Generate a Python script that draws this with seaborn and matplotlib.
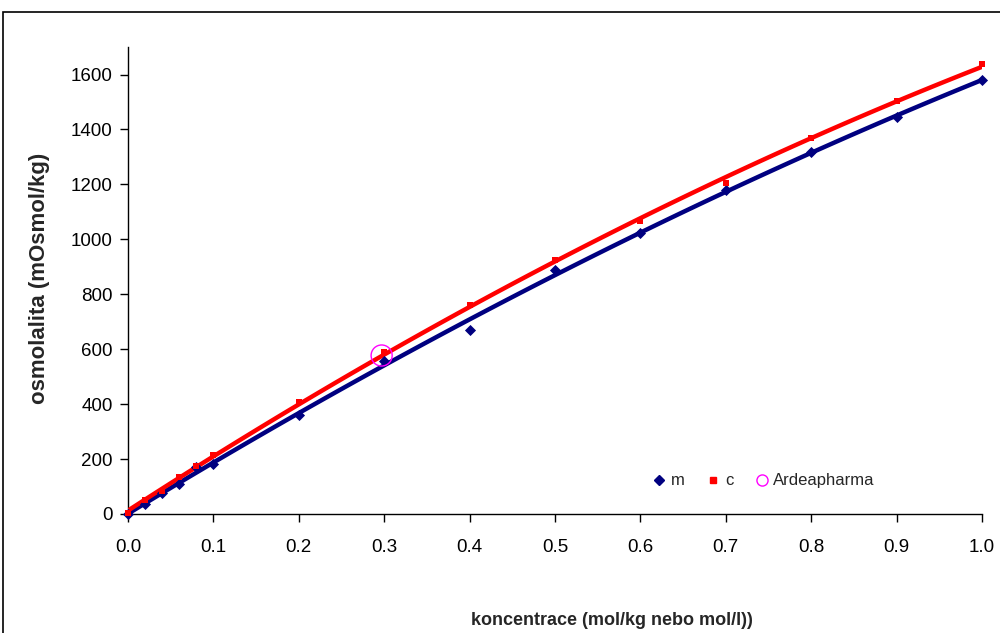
import matplotlib
matplotlib.use("Agg")
import matplotlib.pyplot as plt
from matplotlib.lines import Line2D
from matplotlib.patches import Rectangle
import numpy as np
import pandas as pd
import seaborn as sns

# Measured osmolality vs. concentration
conc = [0.0, 0.02, 0.04, 0.06, 0.08, 0.1, 0.2, 0.3, 0.4, 0.5, 0.6, 0.7, 0.8, 0.9, 1.0]
osm_m = [0, 36, 75, 108, 172, 183, 361, 558, 670, 887, 1024, 1181, 1317, 1446, 1579]
osm_c = [5, 50, 85, 133, 173, 213, 409, 589, 760, 925, 1068, 1206, 1368, 1502, 1638]
ardea_conc = [0.297]
ardea_osm = [577]

y_ticks = [0, 200, 400, 600, 800, 1000, 1200, 1400, 1600]
x_ticks = [0.0, 0.1, 0.2, 0.3, 0.4, 0.5, 0.6, 0.7, 0.8, 0.9, 1.0]

navy = "#000080"
red = "#FF0000"
magenta = "#FF00FF"

sns.set_theme(style="white")
plt.rcParams["font.family"] = ["Liberation Sans", "DejaVu Sans"]

df_m = pd.DataFrame({"conc": conc, "osm": osm_m})
df_c = pd.DataFrame({"conc": conc, "osm": osm_c})

fig = plt.figure(figsize=(10, 6.33), dpi=100)
ax = fig.add_axes([0.128, 0.188, 0.854, 0.7377])

# Quadratic trend lines
sns.regplot(data=df_m, x="conc", y="osm", order=2, ci=None, scatter=False,
            line_kws=dict(color=navy, lw=3.2, zorder=2), ax=ax)
sns.regplot(data=df_c, x="conc", y="osm", order=2, ci=None, scatter=False,
            line_kws=dict(color=red, lw=3.2, zorder=3), ax=ax)

# Data points
sns.scatterplot(data=df_m, x="conc", y="osm", marker="D", s=32, color=navy,
                edgecolor=navy, linewidth=0, ax=ax, zorder=4, clip_on=False)
sns.scatterplot(data=df_c, x="conc", y="osm", marker="s", s=24, color=red,
                edgecolor=red, linewidth=0, ax=ax, zorder=5, clip_on=False)
sns.scatterplot(x=ardea_conc, y=ardea_osm, marker="o", s=230,
                facecolor="none", edgecolor=magenta, linewidth=1.0,
                ax=ax, zorder=6)

ax.set_xlim(0, 1.0)
ax.set_ylim(0, 1700)
ax.set_xticks(x_ticks)
ax.set_xticklabels([f"{v:.1f}" for v in x_ticks])
ax.set_yticks(y_ticks)
ax.set_yticklabels([str(v) for v in y_ticks])
ax.tick_params(axis="both", direction="out", length=6, width=1, color="black",
               labelsize=13.5, labelcolor="black", pad=5, bottom=True, left=True)
ax.tick_params(axis="x", pad=12)
for side in ["top", "right"]:
    ax.spines[side].set_visible(False)
for side in ["left", "bottom"]:
    ax.spines[side].set_color("black")
    ax.spines[side].set_linewidth(1.0)
ax.set_xlabel("")
ax.set_ylabel("")
ax.grid(False)

fig.text(0.040, 0.560, "osmolalita (mOsmol/kg)", rotation=90, ha="center",
         va="center", fontsize=16, fontweight="bold")
fig.text(0.612, 0.020, "koncentrace (mol/kg nebo mol/l))", ha="center",
         va="center", fontsize=13, fontweight="bold")

handles = [
    Line2D([], [], ls="none", marker="D", color=navy, markersize=5.5),
    Line2D([], [], ls="none", marker="s", color=red, markersize=4),
    Line2D([], [], ls="none", marker="o", markerfacecolor="none",
           markeredgecolor=magenta, markersize=8),
]
ax.legend(handles, ["m", "c", "Ardeapharma"], ncol=3, frameon=False,
          loc="center", bbox_to_anchor=(0.745, 0.071), fontsize=12,
          handlelength=0.7, handletextpad=0.35, columnspacing=1.35)

# Chart-area border
fig.add_artist(Rectangle((0.003, -0.1), 1.2, 1.1 - 12 / 633, transform=fig.transFigure,
                         fill=False, lw=1.2, edgecolor="black", clip_on=False))

fig.savefig("out.png", dpi=100)
